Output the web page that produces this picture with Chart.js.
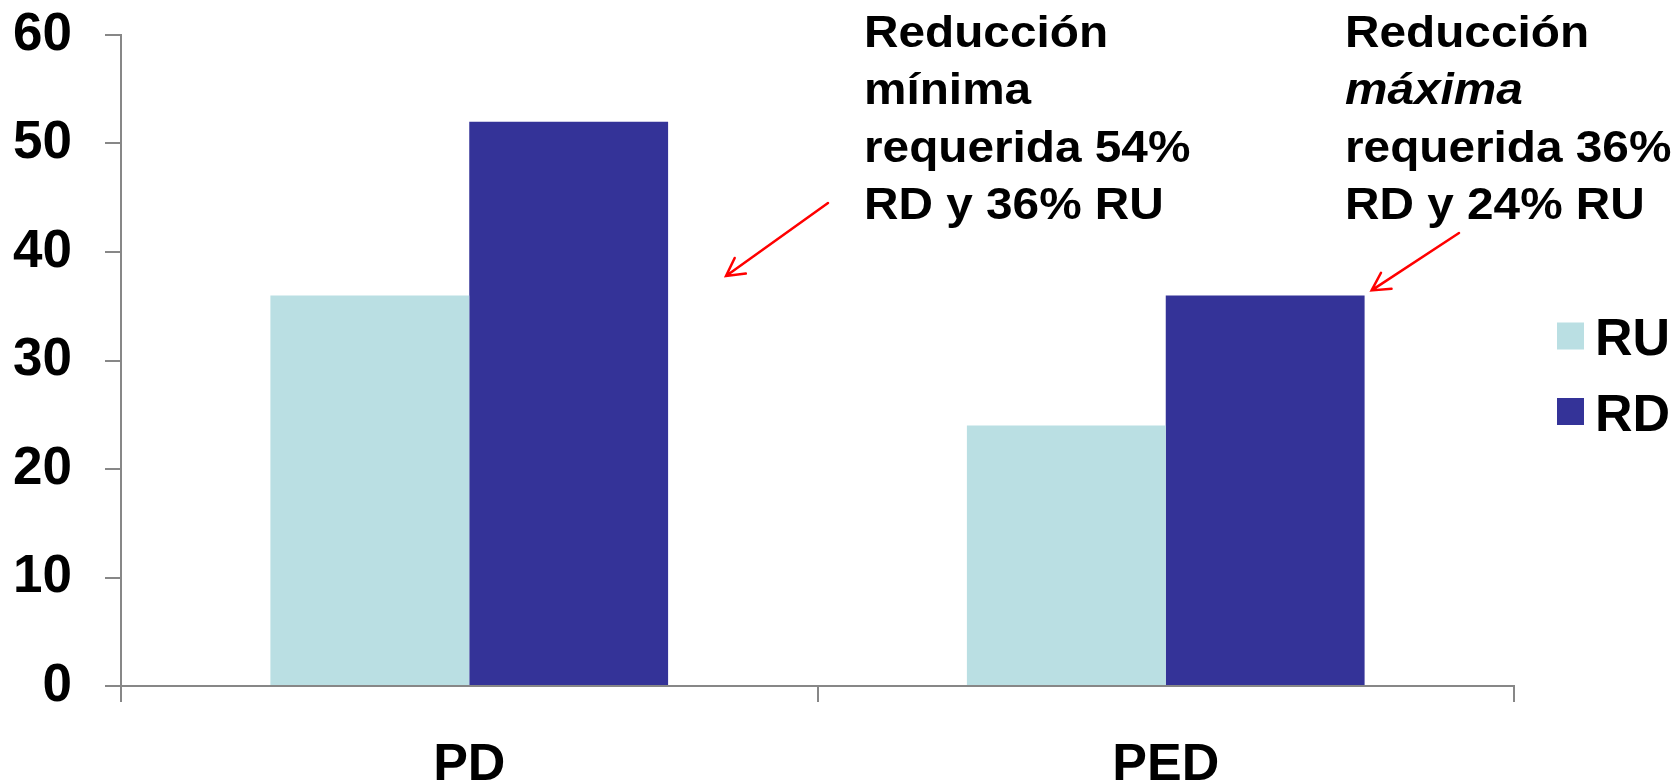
<!doctype html>
<html>
<head>
	<title>Reducción requerida</title>
	<script src="https://cdn.jsdelivr.net/npm/chart.js@4.4.0/dist/chart.umd.min.js"></script>
	<style>
		html, body { margin: 0; padding: 0; background: #fff; }
		.canvas-holder { width: 1680px; height: 784px; position: relative; }
	</style>
</head>
<body>
	<div class="canvas-holder">
		<canvas id="chart-area"></canvas>
	</div>

	<script>
		// data
		var categories = ['PD', 'PED'];
		var seriesNames = ['RU', 'RD'];
		var ruValues = [36, 24];
		var rdValues = [52, 36];
		var yMin = 0, yMax = 60, yStep = 10;

		var noteMin = ['Reducción', 'mínima', 'requerida 54%', 'RD y 36% RU'];
		var noteMax = ['Reducción', 'máxima', 'requerida 36%', 'RD y 24% RU'];

		var colors = {
			RU: '#BADFE3',
			RD: '#343398',
		};
		var axisColor = '#878787';
		var fontFamily = '"Liberation Sans", Arial, sans-serif';

		function drawArrow(ctx, x0, y0, x1, y1) {
			var ang = Math.atan2(y0 - y1, x0 - x1);
			var head = 20, spread = 0.5;
			ctx.beginPath();
			ctx.moveTo(x0, y0);
			ctx.lineTo(x1, y1);
			ctx.moveTo(x1 + head * Math.cos(ang - spread), y1 + head * Math.sin(ang - spread));
			ctx.lineTo(x1, y1);
			ctx.lineTo(x1 + head * Math.cos(ang + spread), y1 + head * Math.sin(ang + spread));
			ctx.stroke();
		}

		function drawNote(ctx, lines, x, italicLine) {
			for (var i = 0; i < lines.length; i++) {
				ctx.save();
				ctx.translate(x, 46.5 + i * 57.5);
				ctx.scale(1.085, 1);
				ctx.font = (i === italicLine ? 'italic ' : '') + 'bold 44px ' + fontFamily;
				ctx.fillStyle = '#000';
				ctx.textBaseline = 'alphabetic';
				ctx.fillText(lines[i], 0, 0);
				ctx.restore();
			}
		}

		// notes, arrows and the legend on the right
		var extras = {
			id: 'extras',
			afterDraw: function (chart) {
				var ctx = chart.ctx;
				drawNote(ctx, noteMin, 864, -1);
				drawNote(ctx, noteMax, 1345, 1);

				ctx.save();
				ctx.strokeStyle = '#FF0000';
				ctx.lineWidth = 2.5;
				ctx.lineCap = 'round';
				drawArrow(ctx, 828, 203, 726, 276);
				var bar = chart.getDatasetMeta(1).data[1];
				drawArrow(ctx, 1459, 233, bar.x + bar.width / 2 + 7, bar.y - 5);
				ctx.restore();

				// legend
				ctx.save();
				ctx.font = 'bold 52px ' + fontFamily;
				ctx.textBaseline = 'alphabetic';
				chart.data.datasets.forEach(function (ds, i) {
					var y = 322.5 + i * 75.5;
					ctx.fillStyle = ds.backgroundColor;
					ctx.fillRect(1557, y, 27, 27);
					ctx.fillStyle = '#000';
					ctx.fillText(ds.label, 1595, y + 32.5);
				});
				ctx.restore();
			}
		};

		var ctx = document.getElementById('chart-area').getContext('2d');
		var chart = new Chart(ctx, {
			type: 'bar',
			data: {
				labels: categories,
				datasets: [
					{ label: seriesNames[0], data: ruValues, backgroundColor: colors.RU },
					{ label: seriesNames[1], data: rdValues, backgroundColor: colors.RD },
				],
			},
			options: {
				responsive: true,
				maintainAspectRatio: false,
				animation: false,
				layout: { padding: { left: 0, top: 35, right: 166, bottom: 0 } },
				categoryPercentage: 0.571,
				barPercentage: 1,
				plugins: {
					legend: { display: false },
					tooltip: { enabled: false },
				},
				scales: {
					x: {
						grid: { display: true, drawOnChartArea: false, drawTicks: true, tickLength: 16, color: axisColor, lineWidth: 2 },
						border: { display: true, color: axisColor, width: 2 },
						ticks: {
							color: '#000',
							padding: 38,
							font: { family: fontFamily, size: 52, weight: 'bold', lineHeight: 1 },
						},
						afterFit: function (scale) {
							scale.height = 98;
							scale.paddingLeft = 0;
							scale.paddingRight = 0;
						},
					},
					y: {
						min: yMin,
						max: yMax,
						grid: { display: true, drawOnChartArea: false, drawTicks: true, tickLength: 16, color: axisColor, lineWidth: 2 },
						border: { display: true, color: axisColor, width: 2 },
						ticks: {
							stepSize: yStep,
							color: '#000',
							padding: 33,
							font: { family: fontFamily, size: 53, weight: 'bold', lineHeight: 1 },
						},
						afterFit: function (scale) {
							scale.width = 121;
							scale.paddingTop = 26;
							scale.paddingBottom = 26;
						},
					},
				},
			},
			plugins: [extras],
		});
	</script>
</body>
</html>
